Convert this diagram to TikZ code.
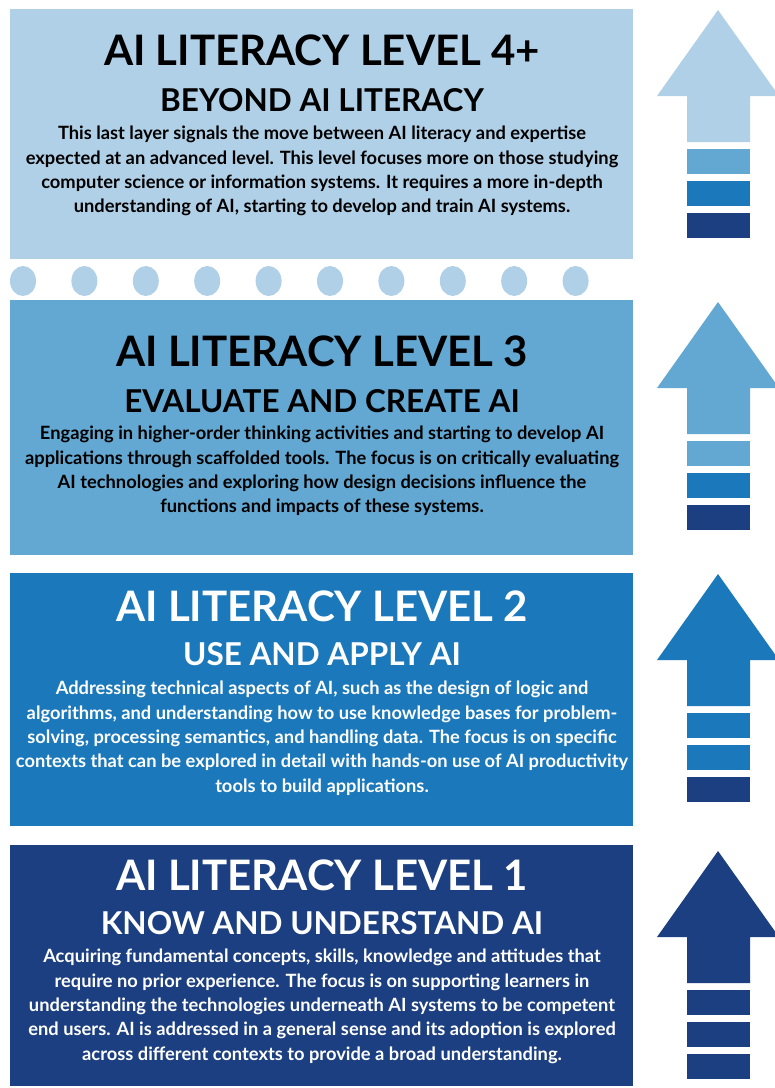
\documentclass[tikz,border=0pt]{standalone}
\usepackage{fontspec}
\setmainfont{Lato}
\usetikzlibrary{positioning}
\definecolor{lvlfour}{RGB}{176,208,231}
\definecolor{lvlthree}{RGB}{99,168,210}
\definecolor{lvltwo}{RGB}{27,121,187}
\definecolor{lvlone}{RGB}{27,63,128}

% arrow at the right: tip y, head colour, three bar colours
\newcommand{\levelarrow}[5]{%
    \fill[#2] (718,#1) -- (779,#1+86) -- (750,#1+86) -- (750,#1+132)
        -- (687,#1+132) -- (687,#1+86) -- (657,#1+86) -- cycle;
    \fill[#3] (687,#1+139) rectangle (750,#1+164);
    \fill[#4] (687,#1+171) rectangle (750,#1+196);
    \fill[#5] (687,#1+203) rectangle (750,#1+228);
}

\begin{document}
\begin{tikzpicture}[x=1pt, y=-1pt]
    \tikzstyle{panel} = [inner sep=0, outer sep=0, minimum width=623pt, anchor=north west]
    \tikzstyle{title} = [inner sep=0, font=\fontsize{42}{44}\selectfont\bfseries]
    \tikzstyle{subtitle} = [inner sep=0, font=\fontsize{31.5}{33}\selectfont\bfseries]
    \tikzstyle{body} = [inner sep=0, align=center, font=\fontsize{18.3}{24.4}\selectfont\bfseries]
    \useasboundingbox (0,0) rectangle (775,1088);

    % panels
    \node [panel, fill=lvlfour, minimum height=250pt] at (10,9) (p4) {};
    \node [panel, fill=lvlthree, minimum height=255pt] at (10,300) (p3) {};
    \node [panel, fill=lvltwo, minimum height=253pt] at (10,573) (p2) {};
    \node [panel, fill=lvlone, minimum height=241pt] at (10,845) (p1) {};

    % dots between level 4 and level 3
    \foreach \i in {0,...,9}
        \fill[lvlfour] (23+61.4*\i,281) ellipse (13pt and 15pt);

    % level 4+
    \node [title] at (322,50) (t4) {AI LITERACY LEVEL 4+};
    \node [subtitle] at (322,100) (s4) {BEYOND AI LITERACY};
    \node [body, below=14pt of s4] (b4) {This last layer signals the move between AI literacy and expertise\\
        expected at an advanced level. This level focuses more on those studying\\
        computer science or information systems. It requires a more in-depth\\
        understanding of AI, starting to develop and train AI systems.};

    % level 3
    \node [title] at (322,351) (t3) {AI LITERACY LEVEL 3};
    \node [subtitle] at (322,401) (s3) {EVALUATE AND CREATE AI};
    \node [body, below=13pt of s3] (b3) {Engaging in higher-order thinking activities and starting to develop AI\\
        applications through scaffolded tools. The focus is on critically evaluating\\
        AI technologies and exploring how design decisions influence the\\
        functions and impacts of these systems.};

    % level 2
    \node [title, text=white] at (322,606) (t2) {AI LITERACY LEVEL 2};
    \node [subtitle, text=white] at (322,654) (s2) {USE AND APPLY AI};
    \node [body, text=white, below=15pt of s2] (b2) {Addressing technical aspects of AI, such as the design of logic and\\
        algorithms, and understanding how to use knowledge bases for problem-\\
        solving, processing semantics, and handling data. The focus is on specific\\
        contexts that can be explored in detail with hands-on use of AI productivity\\
        tools to build applications.};

    % level 1
    \node [title, text=white] at (322,875) (t1) {AI LITERACY LEVEL 1};
    \node [subtitle, text=white] at (322,923) (s1) {KNOW AND UNDERSTAND AI};
    \node [body, text=white, below=14pt of s1] (b1) {Acquiring fundamental concepts, skills, knowledge and attitudes that\\
        require no prior experience. The focus is on supporting learners in\\
        understanding the technologies underneath AI systems to be competent\\
        end users. AI is addressed in a general sense and its adoption is explored\\
        across different contexts to provide a broad understanding.};

    % arrows
    \begin{scope}
        \clip (0,0) rectangle (775,1088);
        \levelarrow{10}{lvlfour}{lvlthree}{lvltwo}{lvlone}
        \levelarrow{302}{lvlthree}{lvlthree}{lvltwo}{lvlone}
        \levelarrow{574}{lvltwo}{lvltwo}{lvltwo}{lvlone}
        \levelarrow{851}{lvlone}{lvlone}{lvlone}{lvlone}
    \end{scope}
\end{tikzpicture}
\end{document}
